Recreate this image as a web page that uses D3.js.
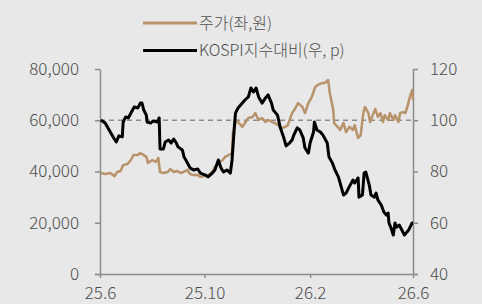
<!DOCTYPE html>
<html>
<head>
<meta charset="utf-8">
<script src="https://cdn.jsdelivr.net/npm/d3@7"></script>
<style>
  html, body { margin: 0; padding: 0; background: #e8e8e8; }
  svg { display: block; }
</style>
</head>
<body>
<div id="chart"></div>
<script>
// 주가 vs KOSPI 대비 — 일별 샘플 (2025.6.1 기준 경과일, 값)
const startDate = new Date(2025, 5, 1);
const endDate = new Date(2026, 5, 1);
const xTickDates = [new Date(2025, 5, 1), new Date(2025, 9, 1), new Date(2026, 1, 1), new Date(2026, 5, 1)];
const leftTicks = [0, 20000, 40000, 60000, 80000];
const rightTicks = [40, 60, 80, 100, 120];
const legendLabels = ['주가(좌,원)', 'KOSPI지수대비(우, p)'];

const priceSeries = [
  [1, 39400], [6, 39000], [12, 39400], [17, 38200], [20, 39800], [24, 40200], [27, 42500],
  [32, 42900], [36, 44500], [39, 46400], [44, 46400], [47, 47200], [51, 46400], [54, 45700],
  [56, 43300], [61, 44500], [65, 43700], [68, 45300], [70, 39800], [74, 39400], [79, 39800],
  [82, 41000], [86, 39800], [90, 40200], [94, 39400], [97, 39800], [102, 40600], [105, 39000],
  [109, 38600], [114, 38600], [117, 37900], [123, 38200], [126, 38600], [131, 39800], [134, 41800],
  [138, 43300], [143, 44500], [146, 45700], [150, 46400], [154, 47200], [155, 55000], [159, 60100],
  [161, 59300], [166, 57400], [169, 58900], [173, 60900], [178, 61300], [181, 62800], [185, 60100],
  [189, 60900], [193, 59300], [196, 60100], [201, 59300], [204, 58900], [208, 58100], [212, 57000],
  [216, 57400], [219, 58100], [224, 62800], [228, 64800], [231, 66700], [236, 65200], [239, 62800],
  [243, 66700], [247, 69100], [251, 73000], [254, 73800], [259, 74500], [262, 74500], [266, 75700],
  [268, 70600], [272, 64000], [273, 58900], [277, 57400], [280, 56200], [284, 58900], [287, 55400],
  [291, 57400], [295, 56200], [297, 58100], [301, 53100], [304, 54200], [307, 62800], [309, 65200],
  [313, 62800], [315, 59300], [318, 62000], [321, 64400], [324, 61300], [327, 62800], [330, 59300],
  [332, 62000], [336, 60100], [338, 62800], [342, 60100], [344, 62000], [348, 59300], [350, 62800],
  [353, 63200], [356, 62800], [359, 65900], [361, 68700], [364, 71800], [365, 67900]
];

const kospiSeries = [
  [1, 100.1], [6, 98.9], [12, 95.4], [16, 93.1], [19, 91.5], [22, 93.9], [26, 93.5], [27, 99.3],
  [30, 101.3], [33, 100.9], [38, 104.0], [40, 105.2], [44, 104.8], [47, 106.7], [49, 106.7],
  [51, 104.0], [54, 102.0], [55, 99.3], [59, 98.9], [62, 99.7], [67, 99.3], [69, 100.9], [70, 88.8],
  [74, 88.8], [76, 91.5], [80, 92.3], [83, 91.1], [86, 92.7], [89, 91.1], [91, 89.6], [96, 88.4],
  [98, 85.7], [102, 83.3], [105, 81.4], [109, 80.6], [114, 81.0], [117, 79.4], [123, 78.6],
  [126, 77.9], [131, 79.4], [134, 80.6], [138, 84.5], [141, 81.4], [144, 79.8], [148, 80.6],
  [152, 79.4], [154, 84.5], [157, 98.9], [158, 102.8], [161, 104.8], [166, 106.7], [169, 107.9],
  [173, 109.1], [176, 112.6], [179, 111.0], [182, 112.6], [185, 109.1], [189, 106.7], [193, 108.7],
  [196, 109.9], [200, 106.7], [202, 104.0], [207, 102.0], [210, 97.4], [214, 93.5], [217, 90.0],
  [221, 91.1], [224, 92.3], [226, 94.2], [230, 97.0], [233, 96.2], [237, 93.1], [239, 89.2],
  [243, 87.2], [245, 91.1], [249, 95.4], [250, 99.3], [253, 96.2], [257, 95.4], [260, 94.2],
  [265, 91.1], [267, 85.7], [271, 83.3], [274, 80.6], [278, 77.9], [279, 76.7], [284, 70.8],
  [287, 71.6], [290, 73.6], [295, 76.7], [297, 75.5], [301, 77.5], [302, 70.0], [306, 70.8],
  [308, 79.4], [310, 79.8], [314, 74.7], [316, 70.8], [320, 70.0], [322, 71.6], [324, 68.9],
  [328, 66.9], [331, 64.2], [334, 63.0], [336, 63.8], [337, 59.9], [339, 58.3], [342, 55.2],
  [344, 59.9], [346, 58.3], [349, 59.1], [352, 57.2], [355, 55.2], [358, 56.4], [360, 57.2],
  [364, 59.9], [365, 59.9]
];

const W = 482, H = 304;
const margin = { top: 69, right: 69, bottom: 30, left: 100 };
const plotW = 313, plotH = 205;

const colors = { price: '#b8926a', kospi: '#000000', axis: '#8c8c8c', text: '#4d4d4d', bg: '#e8e8e8' };
const font = '"Noto Sans CJK KR", "Noto Sans", sans-serif';

const svg = d3.select('#chart').append('svg')
  .attr('width', W).attr('height', H)
  .style('background', colors.bg);

const g = svg.append('g').attr('transform', `translate(${margin.left},${margin.top})`);

const x = d3.scaleTime().domain([startDate, endDate]).range([0, plotW]);
const yL = d3.scaleLinear().domain([0, 80000]).range([plotH, 0]);
const yR = d3.scaleLinear().domain([40, 120]).range([plotH, 0]);

const toDate = d => d3.timeDay.offset(startDate, d);

// 기준선 (100)
g.append('line')
  .attr('x1', 0).attr('x2', plotW)
  .attr('y1', yR(100)).attr('y2', yR(100))
  .attr('stroke', colors.axis).attr('stroke-width', 1.5)
  .attr('stroke-dasharray', '5,4');

function styleAxis(sel) {
  sel.select('.domain').attr('stroke', colors.axis).attr('stroke-width', 1.5);
  sel.selectAll('.tick line').attr('stroke', colors.axis).attr('stroke-width', 1.5);
  sel.selectAll('.tick text')
    .attr('fill', colors.text)
    .style('font-family', font)
    .style('font-weight', 300)
    .style('font-size', '17px');
}

g.append('g')
  .attr('transform', `translate(0,${plotH})`)
  .call(d3.axisBottom(x).tickValues(xTickDates).tickFormat(d3.timeFormat('%y.%-m')).tickSize(4).tickSizeOuter(0).tickPadding(9))
  .call(styleAxis)
  .call(sel => sel.select('.domain').attr('d', `M-5,0.5H${plotW + 5}`));

g.append('g')
  .call(d3.axisLeft(yL).tickValues(leftTicks).tickFormat(d3.format(',')).tickSize(5).tickSizeOuter(0).tickPadding(16))
  .call(styleAxis);

g.append('g')
  .attr('transform', `translate(${plotW},0)`)
  .call(d3.axisRight(yR).tickValues(rightTicks).tickSize(5).tickSizeOuter(0).tickPadding(12))
  .call(styleAxis);

// Lines
const linePrice = d3.line().x(d => x(toDate(d[0]))).y(d => yL(d[1]));
const lineKospi = d3.line().x(d => x(toDate(d[0]))).y(d => yR(d[1]));

g.append('path').datum(priceSeries)
  .attr('d', linePrice)
  .attr('fill', 'none').attr('stroke', colors.price)
  .attr('stroke-width', 2.5).attr('stroke-linejoin', 'round');

g.append('path').datum(kospiSeries)
  .attr('d', lineKospi)
  .attr('fill', 'none').attr('stroke', colors.kospi)
  .attr('stroke-width', 3).attr('stroke-linejoin', 'round');

// Legend
const legend = svg.append('g').attr('transform', 'translate(143,23)');
[colors.price, colors.kospi].forEach((c, i) => {
  const row = legend.append('g').attr('transform', `translate(0,${i * 27.5})`);
  row.append('line').attr('x1', 0).attr('x2', 54).attr('y1', 0).attr('y2', 0)
    .attr('stroke', c).attr('stroke-width', 3);
  row.append('text').attr('x', 56).attr('y', 0).attr('dy', '0.35em')
    .attr('fill', colors.text)
    .style('font-family', font).style('font-weight', 300).style('font-size', '16px')
    .text(legendLabels[i]);
});
</script>
</body>
</html>
